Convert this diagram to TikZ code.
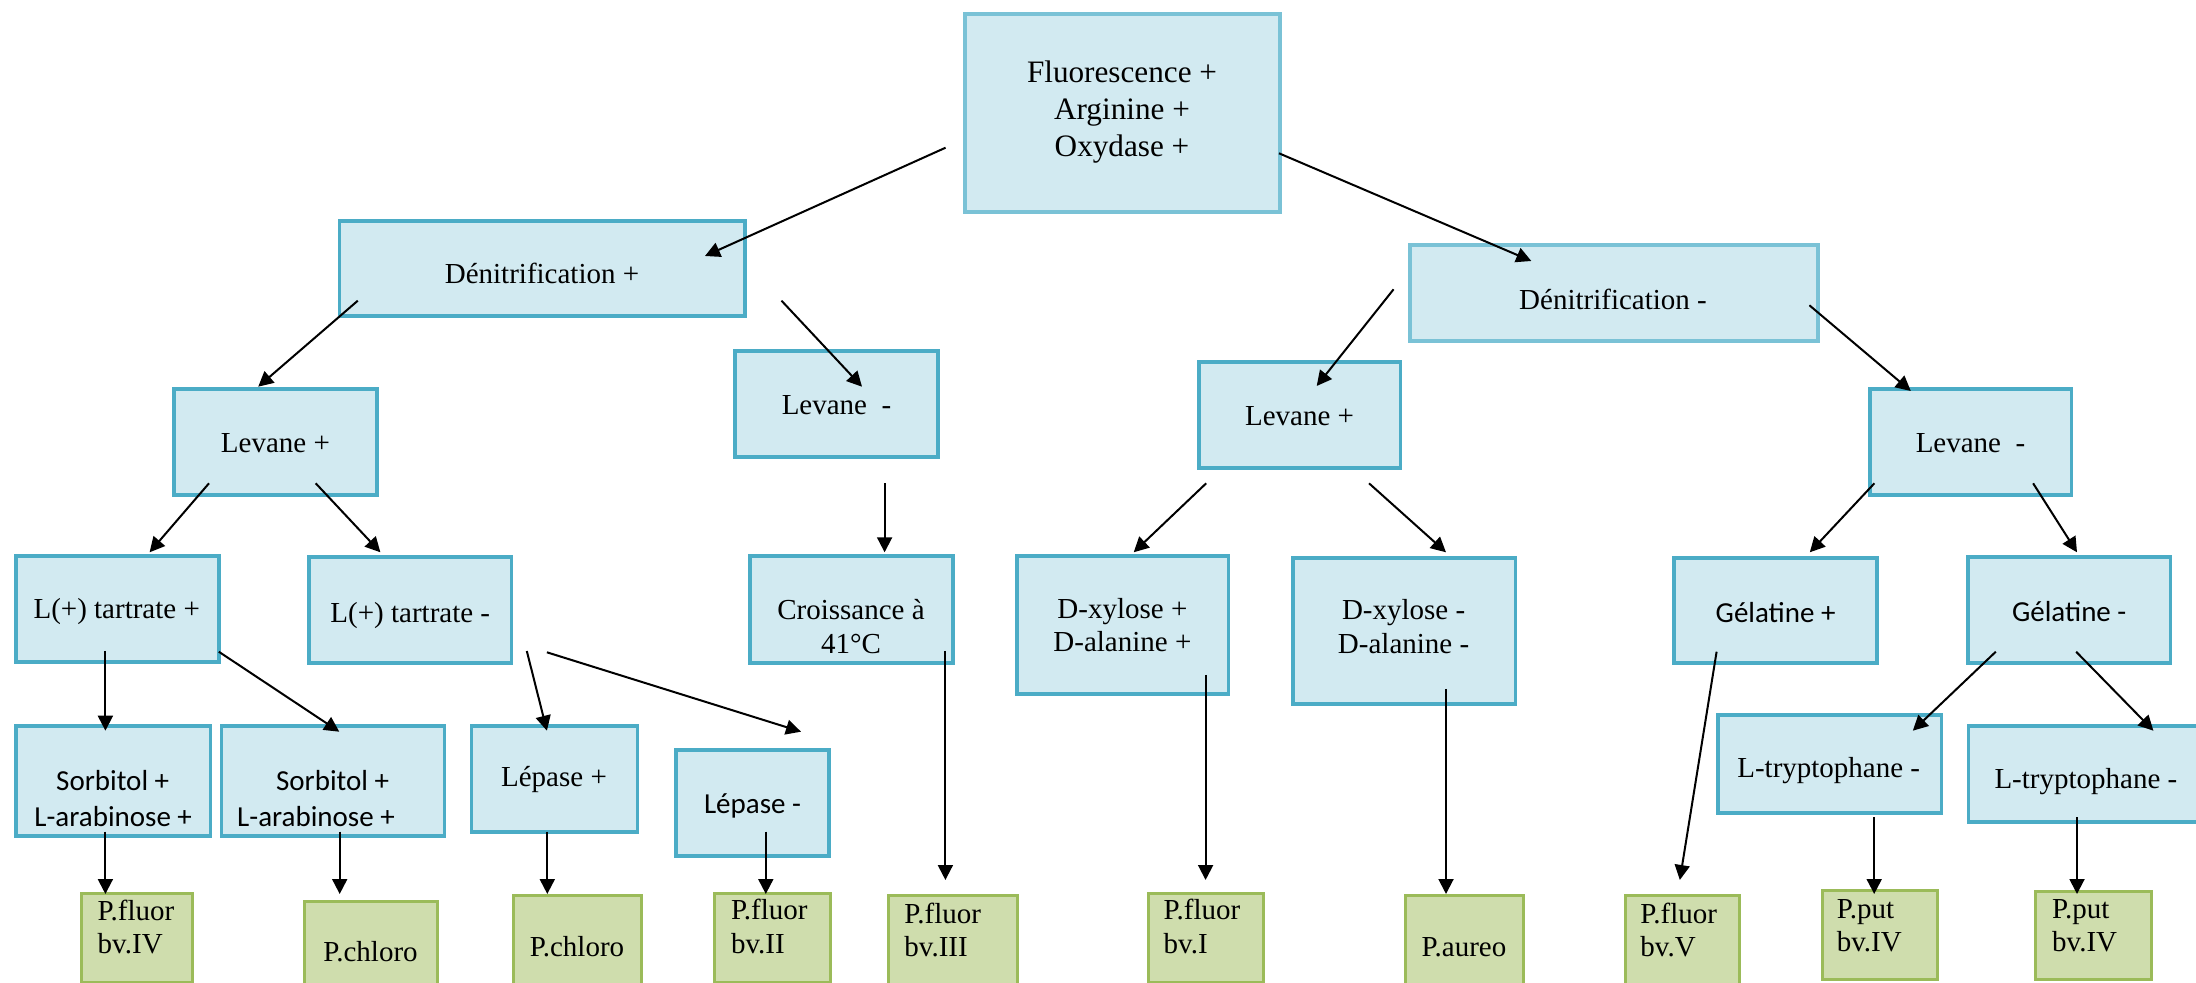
\documentclass[tikz,border=0pt]{standalone}
\usepackage{fontspec}
\setmainfont{Liberation Serif}
\newfontfamily\calfont{Carlito}
\usetikzlibrary{arrows.meta,fit}
\definecolor{bfill}{HTML}{D2EAF1}
\definecolor{bline}{HTML}{4BACC6}
\definecolor{blinel}{HTML}{7AC2D6}
\definecolor{gfill}{HTML}{CFDDAD}
\definecolor{gline}{HTML}{9BBB59}
\tikzset{
 bbox/.style={draw=bline, fill=bfill, line width=1.6pt, inner sep=0pt},
 bboxl/.style={bbox, draw=blinel},
 gbox/.style={draw=gline, fill=gfill, line width=1.5pt, inner sep=0pt},
 tx/.style={anchor=base, inner sep=0pt, font=\fontsize{14.5}{16}\selectfont},
 txr/.style={tx, font=\fontsize{15.6}{17}\selectfont},
 txw/.style={tx, anchor=base west},
 cal/.style={tx, font=\fontsize{14.5}{16}\calfont},
 arr/.style={-{Triangle[length=7.5pt,width=7.5pt]}, line width=1pt},
}
\begin{document}
\begin{tikzpicture}[x=0.5pt,y=-0.5pt]
\useasboundingbox (0,0) rectangle (2196,983);
\begin{scope}
\clip (0,0) rectangle (2196,983);
% blue boxes
\node[bboxl, fit={(965,14)(1280,212)}] (root) {};
\node[bbox, fit={(339.5,221)(745,316)}] (dp) {};
\node[bboxl, fit={(1410,245)(1818,341)}] (dm) {};
\node[bbox, fit={(174,389)(377,495)}] (lpL) {};
\node[bbox, fit={(735,351)(938,457)}] (lmL) {};
\node[bbox, fit={(1199,362)(1400.5,468)}] (lpR) {};
\node[bbox, fit={(1870,389)(2071.5,495)}] (lmR) {};
\node[bbox, fit={(16,556)(219,662)}] (tp) {};
\node[bbox, fit={(309,557)(511.6,663)}] (tm) {};
\node[bbox, fit={(750,556)(953,663)}] (cr) {};
\node[bbox, fit={(1017,556)(1228.6,694)}] (xp) {};
\node[bbox, fit={(1293,558)(1515.5,704)}] (xm) {};
\node[bbox, fit={(1674,558)(1877,663)}] (gp) {};
\node[bbox, fit={(1968,557)(2170.7,663)}] (gm) {};
\node[bbox, fit={(16,726)(210.7,836)}] (s1) {};
\node[bbox, fit={(221.4,726)(444.6,836)}] (s2) {};
\node[bbox, fit={(471.4,726)(637.5,832)}] (lep) {};
\node[bbox, fit={(676,750)(829,856)}] (lem) {};
\node[bbox, fit={(1718,715)(1941.6,813)}] (ly1) {};
\node[bbox, fit={(1968.3,726)(2204,822)}] (ly2) {};
% green boxes
\node[gbox, fit={(81.7,893)(192,982)}] (g1) {};
\node[gbox, fit={(304,901)(437.5,995)}] (g2) {};
\node[gbox, fit={(513,895)(641.5,995)}] (g3) {};
\node[gbox, fit={(714.3,893)(830,982)}] (g4) {};
\node[gbox, fit={(888.8,895)(1017.3,995)}] (g5) {};
\node[gbox, fit={(1148,893)(1263.8,982)}] (g6) {};
\node[gbox, fit={(1405,895)(1523,995)}] (g7) {};
\node[gbox, fit={(1625,895)(1739.7,995)}] (g8) {};
\node[gbox, fit={(1822,890)(1937,979)}] (g9) {};
\node[gbox, fit={(2035.7,891)(2151.6,979)}] (g10) {};
\end{scope}
% texts
\node[txr] (rootA) at (1122,83) {Fluorescence +};
\node[txr] (rootB) at (1122,119.3) {Arginine +};
\node[txr] (rootC) at (1122,156.3) {Oxydase +};
\node[tx] (dpT) at (542,284) {Dénitrification +};
\node[tx] (dmT) at (1613,309.3) {Dénitrification -};
\node[tx] (lpLT) at (275.4,452.7) {Levane +};
\node[tx] (lmLT) at (836.5,415) {Levane\ \ -};
\node[tx] (lpRT) at (1299.5,426) {Levane +};
\node[tx] (lmRT) at (1970.5,452.7) {Levane\ \ -};
\node[tx] (tpT) at (116.7,618.3) {L(+) tartrate +};
\node[tx] (tmT) at (410.3,622.3) {L(+) tartrate -};
\node[tx] (crA) at (851,620) {Croissance à};
\node[tx] (crB) at (851,653.3) {41°C};
\node[tx] (xpA) at (1122.4,619) {D-xylose +};
\node[tx] (xpB) at (1122.4,651.7) {D-alanine +};
\node[tx] (xmA) at (1403.6,620) {D-xylose -};
\node[tx] (xmB) at (1403.6,653.3) {D-alanine -};
\node[cal] (gpT) at (1775.6,622.7) {Gélatine +};
\node[cal] (gmT) at (2069.2,621.7) {Gélatine -};
\node[cal] (s1A) at (112.7,790.7) {Sorbitol +};
\node[cal] (s1B) at (113.2,826) {L-arabinose +};
\node[cal] (s2A) at (332.6,790.7) {Sorbitol +};
\node[cal] (s2B) at (316,826) {L-arabinose +};
\node[tx] (lepT) at (554,786.7) {Lépase +};
\node[cal] (lemT) at (752.5,813.3) {Lépase -};
\node[tx] (ly1T) at (1828.7,777.3) {L-tryptophane -};
\node[tx] (ly2T) at (2085.9,788.3) {L-tryptophane -};
\node[txw] (g1A) at (97.3,920) {P.fluor};
\node[txw] (g1B) at (97.3,953.3) {bv.IV};
\node[tx] (g2T) at (370.5,961.7) {P.chloro};
\node[tx] (g3T) at (577,956.7) {P.chloro};
\node[txw] (g4A) at (730.6,919.3) {P.fluor};
\node[txw] (g4B) at (730.6,953.3) {bv.II};
\node[txw] (g5A) at (904,923.3) {P.fluor};
\node[txw] (g5B) at (904,956.7) {bv.III};
\node[txw] (g6A) at (1163.3,919.3) {P.fluor};
\node[txw] (g6B) at (1163.3,953.3) {bv.I};
\node[tx] (g7T) at (1464,956.7) {P.aureo};
\node[txw] (g8A) at (1640,923.3) {P.fluor};
\node[txw] (g8B) at (1640,956.7) {bv.V};
\node[txw] (g9A) at (1836.4,918.3) {P.put};
\node[txw] (g9B) at (1836.4,951.7) {bv.IV};
\node[txw] (g10A) at (2051.7,918.3) {P.put};
\node[txw] (g10B) at (2051.7,951.7) {bv.IV};
% connector end points
\coordinate (a1s) at (945.6,147.7);  \coordinate (a1e) at (705,256);
\coordinate (a2s) at (1279,153.3);   \coordinate (a2e) at (1531.3,261);
\coordinate (a3s) at (357.8,300.7);  \coordinate (a3e) at (258.2,386.7);
\coordinate (a4s) at (781.5,300.7);  \coordinate (a4e) at (862,386.7);
\coordinate (a5s) at (1393.6,289.3); \coordinate (a5e) at (1316.7,386);
\coordinate (a6s) at (1809.4,305.3); \coordinate (a6e) at (1910.8,391);
\coordinate (a7s) at (209,483.3);    \coordinate (a7e) at (149.6,552.3);
\coordinate (a8s) at (315.7,483.3);  \coordinate (a8e) at (380.4,552.3);
\coordinate (a9s) at (884.6,483.3);  \coordinate (a9e) at (884.6,552.3);
\coordinate (a10s) at (1206.2,483.3); \coordinate (a10e) at (1133.7,552.3);
\coordinate (a11s) at (1369,483.3);  \coordinate (a11e) at (1446,552.3);
\coordinate (a12s) at (1874.4,483.3); \coordinate (a12e) at (1809.8,552.3);
\coordinate (a13s) at (2033.1,483.3); \coordinate (a13e) at (2077,552.3);
\coordinate (a14s) at (105.4,651);   \coordinate (a14e) at (105.4,730.7);
\coordinate (a15s) at (218.8,651.7); \coordinate (a15e) at (339.3,731.7);
\coordinate (a16s) at (526.8,651);   \coordinate (a16e) at (546.9,730.7);
\coordinate (a17s) at (546.9,652.3); \coordinate (a17e) at (801,731.7);
\coordinate (a18s) at (945.4,651);   \coordinate (a18e) at (945.4,880);
\coordinate (a19s) at (1205.6,675);  \coordinate (a19e) at (1205.6,880);
\coordinate (a20s) at (1446,689);    \coordinate (a20e) at (1446,894);
\coordinate (a21s) at (1716.6,651.7); \coordinate (a21e) at (1679.8,880);
\coordinate (a22s) at (1995.8,651.7); \coordinate (a22e) at (1912.8,730.7);
\coordinate (a23s) at (2076.1,651.7); \coordinate (a23e) at (2153.4,730.7);
\coordinate (a24s) at (1874.2,817.3); \coordinate (a24e) at (1874.2,894);
\coordinate (a25s) at (2077,817.3);  \coordinate (a25e) at (2077,894);
\coordinate (a26s) at (105.4,831.7); \coordinate (a26e) at (105.4,894);
\coordinate (a27s) at (339.7,831.7); \coordinate (a27e) at (339.7,894);
\coordinate (a28s) at (547.3,831.7); \coordinate (a28e) at (547.3,894);
\coordinate (a29s) at (765.8,831.7); \coordinate (a29e) at (765.8,894);
\foreach \i in {1,...,29} {\draw[arr] (a\i s) -- (a\i e);}
\end{tikzpicture}
\end{document}
